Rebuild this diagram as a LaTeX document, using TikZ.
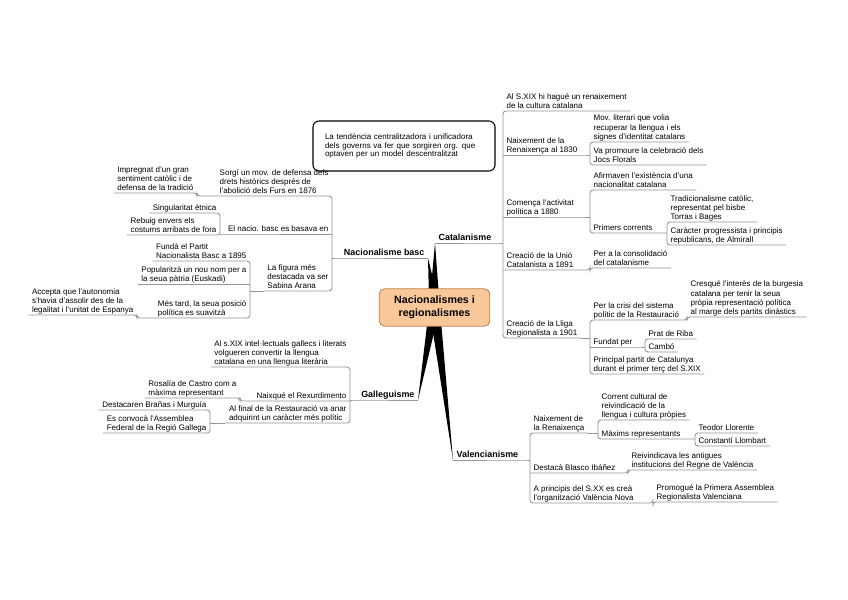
\documentclass[tikz,border=0pt]{standalone}
\usepackage{fontspec}
\setmainfont{Liberation Sans}
\usetikzlibrary{calc}
\pgfdeclarelayer{background}
\pgfsetlayers{background,main}
\definecolor{lngray}{HTML}{969696}
\definecolor{rootfill}{HTML}{FAC898}
\definecolor{rootdraw}{HTML}{C08048}
\newcommand\dpt{\rule[-1.3pt]{0pt}{1.3pt}}
\begin{document}
\begin{tikzpicture}[x=0.75pt,y=-0.75pt,
  tp/.style={font=\fontsize{6}{7}\selectfont, align=left, inner xsep=2.5pt, inner ysep=0.25pt, execute at end node=\dpt},
  rt/.style={tp, anchor=south west},
  lf/.style={tp, anchor=south east},
  maintopic/.style={font=\bfseries\fontsize{6.7}{8}\selectfont, inner xsep=2.5pt, inner ysep=0.25pt, execute at end node=\dpt},
  ln/.style={draw=lngray, line width=0.65pt, rounded corners=2.2pt},
  wedge/.style={fill=black}]
\begin{pgfonlayer}{background}
\fill[white] (0,0) rectangle (848,599);
\end{pgfonlayer}
\path[use as bounding box] (0,0) rectangle (848,599);

% ---------- central node ----------
\node[fill=rootfill, draw=rootdraw, line width=0.6pt, rounded corners=4pt,
      minimum width=83pt, minimum height=28pt, align=center,
      font=\bfseries\fontsize{8}{9.75}\selectfont] (root) at (434.5,307.5) {Nacionalismes i\\regionalismes};

% ---------- callout ----------
\node[draw=black, line width=0.8pt, rounded corners=4.5pt, minimum width=136.5pt,
      minimum height=37.5pt, align=left, text width=118.5pt,
      font=\fontsize{6}{6.6}\selectfont] (note) at (404,146)
      {La tendència centralitzadora i unificadora\\dels governs va fer que sorgiren org. que\\optaven per un model descentralitzat};

% ---------- Catalanisme ----------
\node[maintopic, anchor=south west] (cat) at (435,243) {Catalanisme};
\node[rt] (c1) at (503,111) {Al S.XIX hi hagué un renaixement\\de la cultura catalana};
\node[rt] (c2) at (503,155) {Naixement de la\\Renaixença al 1830};
\node[rt] (c3) at (503,217) {Comença l'activitat\\política a 1880};
\node[rt] (c4) at (503,270) {Creació de la Unió\\Catalanista a 1891};
\node[rt] (c5) at (503,338) {Creació de la Lliga\\Regionalista a 1901};
\node[rt] (c21) at (590,142) {Mov. literari que volia\\recuperar la llengua i els\\signes d'identitat catalans};
\node[rt] (c22) at (590,165) {Va promoure la celebració dels\\Jocs Florals};
\node[rt] (c31) at (590,190) {Afirmaven l'existència d'una\\nacionalitat catalana};
\node[rt] (c32) at (590,233) {Primers corrents};
\node[rt] (c321) at (667,222) {Tradicionalisme catòlic,\\representat pel bisbe\\Torras i Bages};
\node[rt] (c322) at (667,245) {Caràcter progressista i principis\\republicans, de Almirall};
\node[rt] (c41) at (590,268) {Per a la consolidació\\del catalanisme};
\node[rt] (c51) at (590,320) {Per la crisi del sistema\\polític de la Restauració};
\node[rt] (c52) at (590,347) {Fundat per};
\node[rt] (c53) at (590,374) {Principal partit de Catalunya\\durant el primer terç del S.XIX};
\node[rt] (c511) at (687,317) {Cresqué l'interès de la burgesia\\catalana per tenir la seua\\pròpia representació política\\al marge dels partits dinàstics};
\node[rt] (c521) at (645,339) {Prat de Riba};
\node[rt] (c522) at (645,352) {Cambó};

\draw[ln] (cat.south west) -- (cat.south east) -- (c1.south west |- cat.south);
\draw[ln] (c1.south east) -- (c1.south west) -- (c5.south west) -- (c5.south east);
\draw[ln] (c2.south west) -- (c2.south east) -- (c21.south west |- c2.south);
\draw[ln] (c21.south east) -- (c21.south west) -- (c22.south west) -- (c22.south east);
\draw[ln] (c3.south west) -- (c3.south east) -- (c31.south west |- c3.south);
\draw[ln] (c31.south east) -- (c31.south west) -- (c32.south west) -- (c32.south east) -- (c321.south west |- c32.south);
\draw[ln] (c321.south east) -- (c321.south west) -- (c322.south west) -- (c322.south east);
\draw[ln] (c4.south west) -- (c4.south east) -- (c41.south west |- c4.south) -- (c41.south west) -- (c41.south east);
\draw[ln] (c5.south east) -- (c51.south west |- c5.south);
\draw[ln] (c51.south east) -- (c51.south west) -- (c53.south west) -- (c53.south east);
\draw[ln] (c52.south west) -- (c52.south east) -- (c521.south west |- c52.south);
\draw[ln] (c521.south east) -- (c521.south west) -- (c522.south west) -- (c522.south east);
\draw[ln] (c51.south east) -- (c511.south west |- c51.south) -- (c511.south west) -- (c511.south east);

% ---------- Valencianisme ----------
\node[maintopic, anchor=south west] (val) at (453,460) {Valencianisme};
\node[rt] (v1) at (530,433) {Naixement de\\la Renaixença};
\node[rt] (v2) at (530,473) {Destacà Blasco Ibáñez};
\node[rt] (v3) at (530,503) {A principis del S.XX es creà\\l'organització València Nova};
\node[rt] (v11) at (598,420) {Corrent cultural de\\reivindicació de la\\llengua i cultura pròpies};
\node[rt] (v12) at (598,439) {Màxims representants};
\node[rt] (v121) at (695,433) {Teodor Llorente};
\node[rt] (v122) at (695,446) {Constantí Llombart};
\node[rt] (v21) at (628,470) {Reivindicava les antigues\\institucions del Regne de València};
\node[rt] (v31) at (653,502) {Promogué la Primera Assemblea\\Regionalista Valenciana};

\draw[ln] (val.south west) -- (val.south east) -- (v1.south west |- val.south);
\draw[ln] (v1.south east) -- (v1.south west) -- (v3.south west) -- (v3.south east);
\draw[ln] (v1.south east) -- (v11.south west |- v1.south);
\draw[ln] (v11.south east) -- (v11.south west) -- (v12.south west) -- (v12.south east) -- (v121.south west |- v12.south);
\draw[ln] (v121.south east) -- (v121.south west) -- (v122.south west) -- (v122.south east);
\draw[ln] (v2.south west) -- (v2.south east) -- (v21.south west |- v2.south) -- (v21.south west) -- (v21.south east);
\draw[ln] (v3.south east) -- (v31.south west |- v3.south) -- (v31.south west) -- (v31.south east);

% ---------- Nacionalisme basc ----------
\node[maintopic, anchor=south east] (nb) at (428,258) {Nacionalisme basc};
\node[lf] (b1) at (332,196) {Sorgí un mov. de defensa dels\\drets històrics després de\\l'abolició dels Furs en 1876};
\node[lf] (b2) at (332,234) {El nacio. basc es basava en};
\node[lf] (b3) at (332,291) {La figura més\\destacada va ser\\Sabina Arana};
\node[lf] (b11) at (197,193) {Impregnat d'un gran\\sentiment catòlic i de\\defensa de la tradició};
\node[lf] (b21) at (220,213) {Singularitat ètnica};
\node[lf] (b22) at (220,235) {Rebuig envers els\\costums arribats de fora};
\node[lf] (b31) at (250,261) {Fundà el Partit\\Nacionalista Basc a 1895};
\node[lf] (b32) at (250,284) {Popularitzà un nou nom per a\\la seua pàtria (Euskadi)};
\node[lf] (b33) at (250,318) {Més tard, la seua posició\\política es suavitzà};
\node[lf] (b331) at (137,315) {Accepta que l'autonomia\\s'havia d'assolir des de la\\legalitat i l'unitat de Espanya};

\draw[ln] (nb.south east) -- (nb.south west) -- (b1.south east |- nb.south);
\draw[ln] (b1.south west) -- (b1.south east) -- (b3.south east) -- (b3.south west);
\draw[ln] (b2.south east) -- (b2.south west) -- (b21.south east |- b2.south);
\draw[ln] (b21.south west) -- (b21.south east) -- (b22.south east) -- (b22.south west);
\draw[ln] (b1.south west) -- (b11.south east |- b1.south) -- (b11.south east) -- (b11.south west);
\draw[ln] (b3.south west) -- (b31.south east |- b3.south);
\draw[ln] (b31.south west) -- (b31.south east) -- (b33.south east) -- (b33.south west);
\draw[ln] (b32.south west) -- (b32.south east);
\draw[ln] (b33.south west) -- (b331.south east |- b33.south) -- (b331.south east) -- (b331.south west);

% ---------- Galleguisme ----------
\node[maintopic, anchor=south east] (gal) at (418,400) {Galleguisme};
\node[lf] (g1) at (350,367) {Al s.XIX intel·lectuals gallecs i literats\\volgueren convertir la llengua\\catalana en una llengua literària};
\node[lf] (g2) at (350,401) {Naixqué el Rexurdimento};
\node[lf] (g3) at (350,423) {Al final de la Restauració va anar\\adquirint un caràcter més polític};
\node[lf] (g21) at (240,398) {Rosalía de Castro com a\\màxima representant};
\node[lf] (g31) at (210,410) {Destacaren Brañas i Murguía};
\node[lf] (g32) at (210,433) {Es convocà l'Assemblea\\Federal de la Regió Gallega};

\draw[ln] (gal.south east) -- (gal.south west) -- (g1.south east |- gal.south);
\draw[ln] (g1.south west) -- (g1.south east) -- (g3.south east) -- (g3.south west);
\draw[ln] (g2.south east) -- (g2.south west) -- (g21.south east |- g2.south) -- (g21.south east) -- (g21.south west);
\draw[ln] (g3.south west) -- (g31.south east |- g3.south);
\draw[ln] (g31.south west) -- (g31.south east) -- (g32.south east) -- (g32.south west);

% ---------- wedges from the centre ----------
\begin{pgfonlayer}{background}
\foreach \t/\p in {cat/south west, nb/south east, gal/south east, val/south west}{
  \fill[wedge] (\t.\p) -- ($(root.center)!4pt!90:(\t.\p)$) -- ($(root.center)!4pt!-90:(\t.\p)$) -- cycle;
}
\end{pgfonlayer}
\end{tikzpicture}
\end{document}
